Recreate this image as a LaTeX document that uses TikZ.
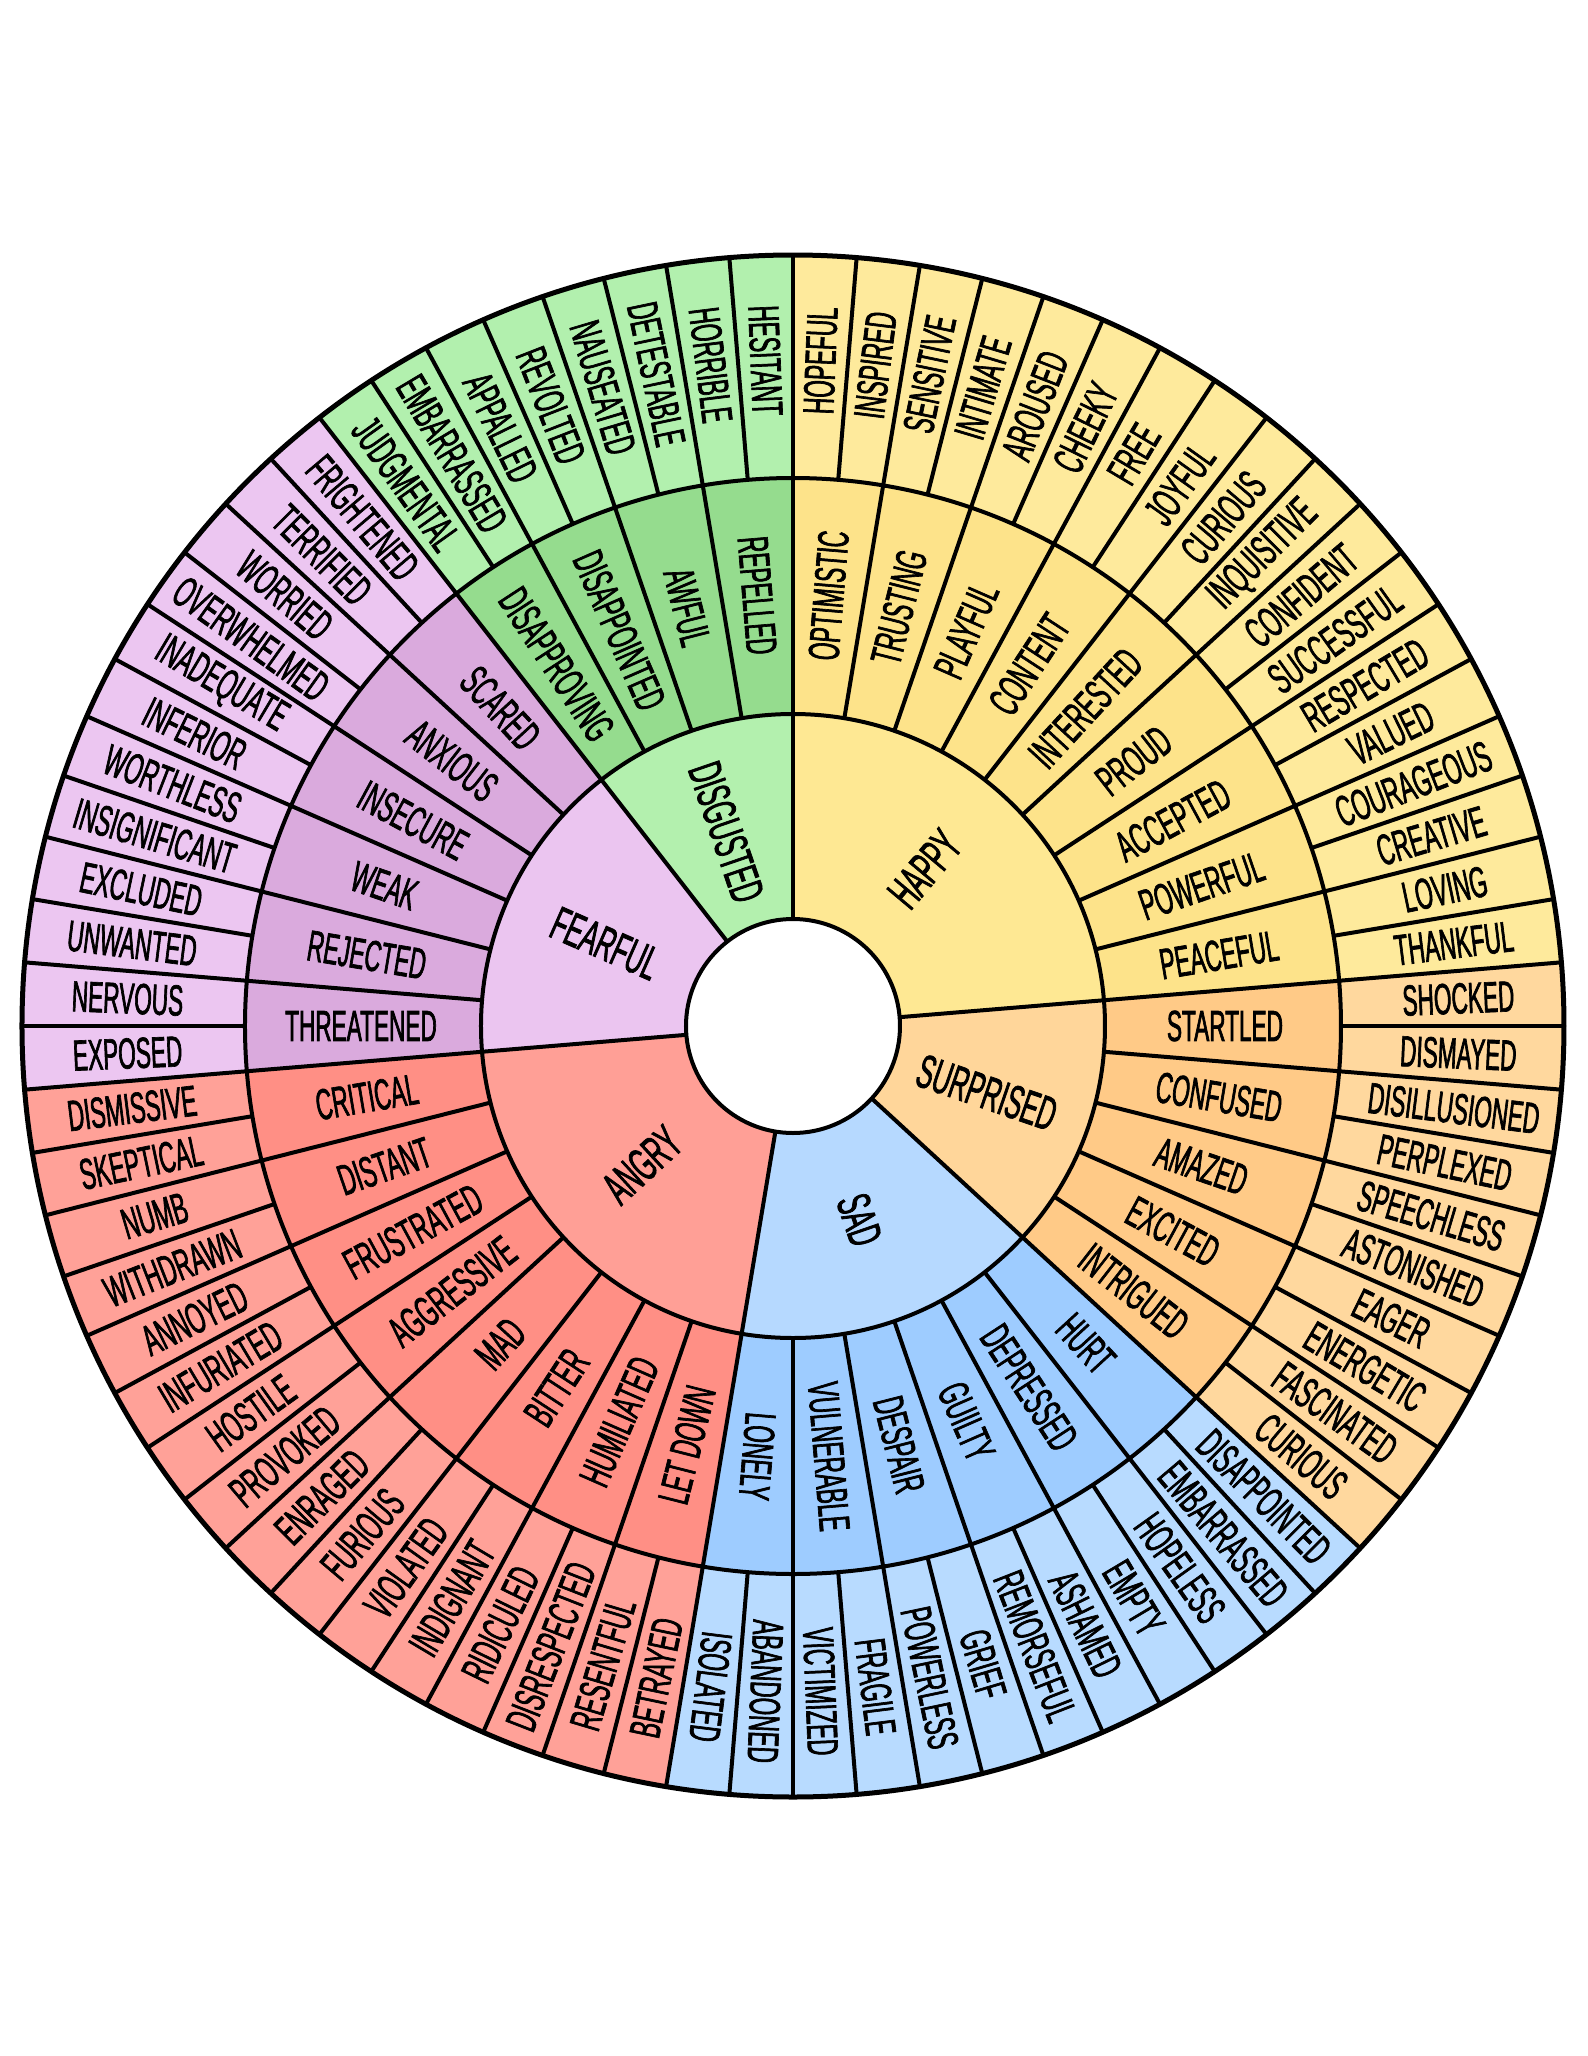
\documentclass[tikz,border=0pt]{standalone}
\usepackage{fontspec}
\setmainfont[FakeStretch=0.52,FakeBold=1.5]{Liberation Sans}
\definecolor{hapO}{HTML}{FEEA9C}
\definecolor{hapM}{HTML}{FDE38A}
\definecolor{hapC}{HTML}{FEE893}
\definecolor{surO}{HTML}{FFD89E}
\definecolor{surM}{HTML}{FFCA87}
\definecolor{surC}{HTML}{FFD69A}
\definecolor{sadO}{HTML}{B8DBFF}
\definecolor{sadM}{HTML}{9ECCFF}
\definecolor{sadC}{HTML}{B6D9FF}
\definecolor{angO}{HTML}{FFA198}
\definecolor{angM}{HTML}{FF8F85}
\definecolor{angC}{HTML}{FF9F96}
\definecolor{feaO}{HTML}{ECC6F1}
\definecolor{feaM}{HTML}{DAAADD}
\definecolor{feaC}{HTML}{EBC5F0}
\definecolor{disO}{HTML}{B2F0AE}
\definecolor{disM}{HTML}{95DC8E}
\definecolor{disC}{HTML}{B3F0AE}
\def\dd{4.7368421}
\def\Ra{107}\def\Rb{312}\def\Rc{548}\def\Rd{771}
\def\rO{666}\def\rM{432}\def\rC{205}
\tikzset{
  wline/.style={line width=1.6pt, black},
  olab/.style={font=\fontsize{17.4}{18}\selectfont, inner sep=0pt, text=black},
  mlab/.style={olab},
  clab/.style={font=\fontsize{19}{20}\selectfont, inner sep=0pt, text=black},
}
\newcommand\wsector[5]{\fill[#1] (#2:#4) arc[start angle=#2,end angle=#3,radius=#4] -- (#3:#5) arc[start angle=#3,end angle=#2,radius=#5] -- cycle;}
\newcommand\outerlabels[3]{%
  \foreach \w [count=\k from #1] in {#3} {%
    \pgfmathsetmacro\aM{90-(\k+0.5)*\dd}%
    \pgfmathsetmacro\rot{\aM+180*#2}%
    \node[olab, rotate=\rot] (o\k) at (\aM:\rO) {\w};
  }}
\newcommand\midlabels[3]{%
  \foreach \w [count=\k from #1] in {#3} {%
    \pgfmathsetmacro\aM{90-(2*\k+1)*\dd}%
    \pgfmathsetmacro\rot{\aM+180*#2}%
    \node[mlab, rotate=\rot] (m\k) at (\aM:\rM) {\w};
  }}
\begin{document}
\begin{tikzpicture}[x=0.4pt,y=0.4pt]
\fill[white] (-793,-1030) rectangle (795,1026);
\useasboundingbox (-793,-1030) rectangle (795,1026);
% sectors
\foreach \s/\n/\co/\cm/\cc in {0/18/hapO/hapM/hapC, 18/10/surO/surM/surC, 28/12/sadO/sadM/sadC, 40/16/angO/angM/angC, 56/12/feaO/feaM/feaC, 68/8/disO/disM/disC} {
  \pgfmathsetmacro\aA{90-\s*\dd}
  \pgfmathsetmacro\aB{90-(\s+\n)*\dd}
  \wsector{\co}{\aA}{\aB}{\Rc}{\Rd}
  \wsector{\cm}{\aA}{\aB}{\Rb}{\Rc}
  \wsector{\cc}{\aA}{\aB}{\Ra}{\Rb}
}
% radial lines
\foreach \k in {0,...,75} { \draw[wline] ({90-\k*\dd}:\Rc) -- ({90-\k*\dd}:\Rd); }
\foreach \k in {0,2,...,74} { \draw[wline] ({90-\k*\dd}:\Rb) -- ({90-\k*\dd}:\Rc); }
\foreach \k in {0,18,28,40,56,68} { \draw[wline] ({90-\k*\dd}:\Ra) -- ({90-\k*\dd}:\Rb); }
% circles
\draw[wline] (0,0) circle[radius=\Ra];
\draw[wline] (0,0) circle[radius=\Rb];
\draw[wline] (0,0) circle[radius=\Rc];
\draw[black, line width=2pt] (0,0) circle[radius=\Rd];
% outer labels
\outerlabels{0}{0}{HOPEFUL,INSPIRED,SENSITIVE,INTIMATE,AROUSED,CHEEKY,FREE,JOYFUL,CURIOUS,INQUISITIVE,CONFIDENT,SUCCESSFUL,RESPECTED,VALUED,COURAGEOUS,CREATIVE,LOVING,THANKFUL}
\outerlabels{18}{0}{SHOCKED,DISMAYED,DISILLUSIONED,PERPLEXED,SPEECHLESS,ASTONISHED,EAGER,ENERGETIC,FASCINATED,CURIOUS}
\outerlabels{28}{0}{DISAPPOINTED,EMBARRASSED,HOPELESS,EMPTY,ASHAMED,REMORSEFUL,GRIEF,POWERLESS,FRAGILE,VICTIMIZED,ABANDONED,ISOLATED}
\outerlabels{40}{1}{BETRAYED,RESENTFUL,DISRESPECTED,RIDICULED,INDIGNANT,VIOLATED,FURIOUS,ENRAGED,PROVOKED,HOSTILE,INFURIATED,ANNOYED,WITHDRAWN,NUMB,SKEPTICAL,DISMISSIVE}
\outerlabels{56}{1}{EXPOSED,NERVOUS,UNWANTED,EXCLUDED,INSIGNIFICANT,WORTHLESS,INFERIOR,INADEQUATE,OVERWHELMED,WORRIED,TERRIFIED,FRIGHTENED}
\outerlabels{68}{1}{JUDGMENTAL,EMBARRASSED,APPALLED,REVOLTED,NAUSEATED,DETESTABLE,HORRIBLE,HESITANT}
% middle labels
\midlabels{0}{0}{OPTIMISTIC,TRUSTING,PLAYFUL,CONTENT,INTERESTED,PROUD,ACCEPTED,POWERFUL,PEACEFUL}
\midlabels{9}{0}{STARTLED,CONFUSED,AMAZED,EXCITED,INTRIGUED}
\midlabels{14}{0}{HURT,DEPRESSED,GUILTY,DESPAIR,VULNERABLE,LONELY}
\midlabels{20}{1}{LET DOWN,HUMILIATED,BITTER,MAD,AGGRESSIVE,FRUSTRATED,DISTANT,CRITICAL}
\midlabels{28}{1}{THREATENED,REJECTED,WEAK,INSECURE,ANXIOUS,SCARED}
\midlabels{34}{1}{DISAPPROVING,DISAPPOINTED,AWFUL,REPELLED}
% core labels
\node[clab, rotate=50] (cHappy) at (50:\rC) {HAPPY};
\node[clab, rotate=-18.95] (cSurprised) at (-18.95:\rC) {SURPRISED};
\node[clab, rotate=-71.05] (cSad) at (-71.05:\rC) {SAD};
\node[clab, rotate=42.63] (cAngry) at (222.63:\rC) {ANGRY};
\node[clab, rotate=-23.68] (cFearful) at (156.32:\rC) {FEARFUL};
\node[clab, rotate=-71.05] (cDisgusted) at (108.95:\rC) {DISGUSTED};
\end{tikzpicture}
\end{document}
